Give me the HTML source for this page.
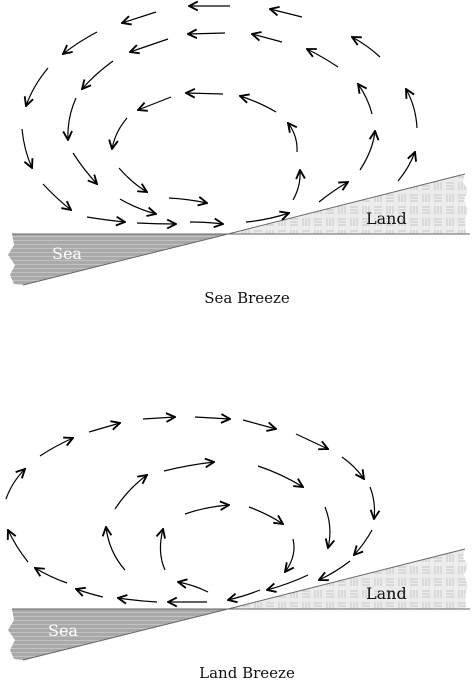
<!DOCTYPE html>
<html><head><style>
html,body{margin:0;padding:0;background:#fff;width:475px;height:682px;overflow:hidden}
svg{display:block}
text{font-family:"DejaVu Serif","Liberation Serif",serif}
</style></head><body>
<svg width="475" height="682" viewBox="0 0 475 682" xmlns="http://www.w3.org/2000/svg">
<defs>
<marker id="ah" viewBox="0 0 10 10" refX="9" refY="5" markerWidth="11" markerHeight="11" markerUnits="userSpaceOnUse" orient="auto">
<path d="M1,1 L9,5 L1,9" fill="none" stroke="#000" stroke-width="1.7"/>
</marker>
<pattern id="sea" width="8" height="4" patternUnits="userSpaceOnUse">
<rect width="8" height="4" fill="#a9a9a9"/><line x1="0" y1="0.5" x2="8" y2="0.5" stroke="#c8c8c8" stroke-width="0.8"/>
</pattern>
<pattern id="land" width="24" height="24" patternUnits="userSpaceOnUse">
<rect width="24" height="24" fill="#ececec"/>
<g stroke="#bdbdbd" stroke-width="0.8">
<line x1="2" y1="3" x2="10" y2="3"/><line x1="2" y1="6" x2="10" y2="6"/><line x1="2" y1="9" x2="10" y2="9"/>
<line x1="15" y1="2" x2="15" y2="10"/><line x1="18" y1="2" x2="18" y2="10"/><line x1="21" y1="2" x2="21" y2="10"/>
<line x1="3" y1="14" x2="3" y2="22"/><line x1="6" y1="14" x2="6" y2="22"/><line x1="9" y1="14" x2="9" y2="22"/>
<line x1="14" y1="15" x2="22" y2="15"/><line x1="14" y1="18" x2="22" y2="18"/><line x1="14" y1="21" x2="22" y2="21"/>
</g></pattern>
</defs>

<path d="M228,234 L465,174 L463,182 L468,190 L464,200 L468,210 L465,220 L466,234 Z" fill="url(#land)"/>
<line x1="228" y1="234" x2="465" y2="174" stroke="#666" stroke-width="1"/>
<path d="M12,234 L228,234 L23,285 L14,284 L10,275 L15,265 L8,255 L14,245 Z" fill="url(#sea)"/>
<line x1="228" y1="234" x2="23" y2="285" stroke="#666" stroke-width="1"/>
<line x1="12" y1="234" x2="470" y2="234" stroke="#666" stroke-width="1"/>
<text x="52" y="259" font-size="16" fill="#fff">Sea</text>
<text x="366" y="224" font-size="16" fill="#111">Land</text>
<text x="247" y="303" font-size="15" fill="#111" text-anchor="middle">Sea Breeze</text>

<path d="M228,609 L465,549 L463,557 L468,565 L464,575 L468,585 L465,595 L466,609 Z" fill="url(#land)"/>
<line x1="228" y1="609" x2="465" y2="549" stroke="#666" stroke-width="1"/>
<path d="M12,609 L228,609 L23,660 L14,659 L10,650 L15,640 L8,630 L14,620 Z" fill="url(#sea)"/>
<line x1="228" y1="609" x2="23" y2="660" stroke="#666" stroke-width="1"/>
<line x1="12" y1="609" x2="470" y2="609" stroke="#666" stroke-width="1"/>
<text x="48" y="636" font-size="16" fill="#fff">Sea</text>
<text x="366" y="599" font-size="16" fill="#111">Land</text>
<text x="247" y="678" font-size="15" fill="#111" text-anchor="middle">Land Breeze</text>

<g fill="none" stroke="#000" stroke-width="1.2" marker-end="url(#ah)">
<path d="M230,6 L189,6"/>
<path d="M302,17 L270,9"/>
<path d="M156,12 L122,23"/>
<path d="M97,32 Q78,42 63,54"/>
<path d="M48,68 Q33,86 26,106"/>
<path d="M22,129 Q24,150 32,168"/>
<path d="M43,184 Q57,199 71,210"/>
<path d="M225,33 L188,34"/>
<path d="M282,42 L252,34"/>
<path d="M168,39 L130,52"/>
<path d="M113,61 Q95,74 82,89"/>
<path d="M76,98 Q67,118 68,140"/>
<path d="M73,153 Q84,170 97,184"/>
<path d="M119,168 Q132,183 147,192"/>
<path d="M87,217 Q105,220 125,222"/>
<path d="M120,199 Q137,209 156,214"/>
<path d="M137,223 Q157,224 176,224"/>
<path d="M169,198 Q188,199 207,203"/>
<path d="M190,222 Q207,222 223,224"/>
<path d="M246,222 Q268,220 289,213"/>
<path d="M293,200 Q301,186 300,170"/>
<path d="M319,202 Q334,190 348,182"/>
<path d="M360,170 Q373,150 375,131"/>
<path d="M398,181 Q409,168 415,152"/>
<path d="M417,128 Q416,107 406,89"/>
<path d="M372,114 Q368,98 358,84"/>
<path d="M380,57 Q367,45 352,37"/>
<path d="M338,67 Q323,57 307,49"/>
<path d="M223,94 L186,93"/>
<path d="M276,112 Q259,102 240,96"/>
<path d="M171,97 L138,110"/>
<path d="M127,118 Q115,132 112,149"/>
<path d="M297,152 Q298,136 288,123"/>

<path d="M6,499 Q12,482 25,469"/>
<path d="M40,456 Q55,446 73,438"/>
<path d="M89,432 L120,423"/>
<path d="M143,419 L175,417"/>
<path d="M195,417 L230,419"/>
<path d="M243,420 L276,429"/>
<path d="M296,434 L328,449"/>
<path d="M342,457 Q355,466 364,479"/>
<path d="M370,487 Q376,502 374,519"/>
<path d="M372,530 Q365,543 354,555"/>
<path d="M350,561 Q336,572 319,580"/>
<path d="M308,575 Q289,584 267,590"/>
<path d="M260,590 Q245,596 228,600"/>
<path d="M207,602 L168,602"/>
<path d="M157,602 Q138,601 118,598"/>
<path d="M103,597 Q90,594 76,589"/>
<path d="M67,583 Q50,577 35,568"/>
<path d="M28,562 Q16,547 8,530"/>
<path d="M115,509 Q128,489 147,475"/>
<path d="M164,471 Q188,465 214,462"/>
<path d="M258,466 Q282,474 303,487"/>
<path d="M325,507 Q333,527 328,548"/>
<path d="M125,570 Q109,552 106,527"/>
<path d="M185,514 Q205,507 229,505"/>
<path d="M249,507 Q268,514 283,524"/>
<path d="M293,539 Q297,556 285,572"/>
<path d="M165,570 Q157,552 163,529"/>
<path d="M208,592 Q194,585 178,582"/>
</g>
</svg>
</body></html>
